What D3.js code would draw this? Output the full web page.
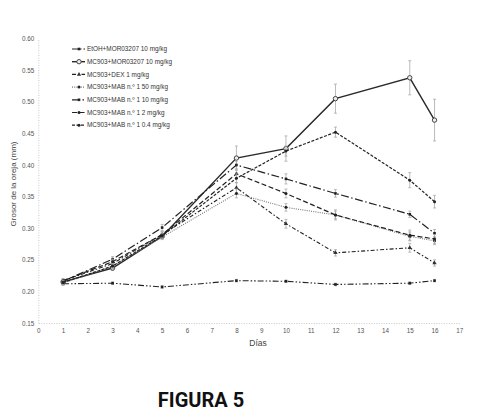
<!DOCTYPE html>
<html><head><meta charset="utf-8">
<script src="https://cdn.jsdelivr.net/npm/d3@7"></script>
<style>body{margin:0;background:#fff}svg{display:block}</style>
</head><body>
<svg id="c" width="478" height="411"></svg>
<script>
const days = [1,3,5,8,10,12,15,16];
const seriesNames = ["EtOH+MOR03207 10 mg/kg","MC903+MOR03207 10 mg/kg","MC903+DEX 1 mg/kg","MC903+MAB n.º 1 50 mg/kg","MC903+MAB n.º 1 10 mg/kg","MC903+MAB n.º 1 2 mg/kg","MC903+MAB n.º 1 0.4 mg/kg"];
const etoh   = [0.212,0.213,0.207,0.217,0.216,0.211,0.213,0.217];
const mor    = [0.215,0.237,0.287,0.411,0.426,0.505,0.538,0.471];
const dex    = [0.217,0.244,0.290,0.364,0.307,0.261,0.269,0.245];
const mab50  = [0.213,0.240,0.286,0.355,0.333,0.321,0.287,0.280];
const mab10  = [0.216,0.251,0.301,0.400,0.378,0.355,0.322,0.292];
const mab2   = [0.217,0.247,0.290,0.386,0.355,0.321,0.289,0.283];
const mab04  = [0.214,0.240,0.288,0.379,0.422,0.452,0.376,0.342];
const errEtoh  = [0.002,0.002,0.002,0.002,0.002,0.002,0.002,0.002];
const errMor   = [0.003,0.004,0.004,0.019,0.020,0.023,0.027,0.033];
const errDex   = [0.003,0.004,0.005,0.008,0.007,0.005,0.007,0.005];
const errMab50 = [0.003,0.004,0.004,0.007,0.006,0.006,0.007,0.006];
const errMab10 = [0.003,0.004,0.005,0.006,0.008,0.006,0.005,0.006];
const errMab2  = [0.003,0.004,0.004,0.006,0.007,0.008,0.008,0.007];
const errMab04 = [0.003,0.004,0.004,0.007,0.008,0.008,0.012,0.010];
const xTicks = d3.range(0,18);
const yTicks = [0.15,0.20,0.25,0.30,0.35,0.40,0.45,0.50,0.55,0.60];

const values = [etoh,mor,dex,mab50,mab10,mab2,mab04];
const errs = [errEtoh,errMor,errDex,errMab50,errMab10,errMab2,errMab04];
const styles = [
  {dash:"6,2,1.5,2,1.5,2", color:"#222", w:1.1, marker:"sq"},
  {dash:null, color:"#2a2a2a", w:1.4, marker:"open"},
  {dash:"4,2,1.5,2", color:"#222", w:1.1, marker:"tri"},
  {dash:"1,1.2", color:"#777", w:1.1, marker:"dot"},
  {dash:"8,2.5,1.5,2.5", color:"#222", w:1.2, marker:"sq"},
  {dash:"5,2.5", color:"#222", w:1.2, marker:"dot"},
  {dash:"3,1.5", color:"#222", w:1.2, marker:"dot"}
];

const svg = d3.select("#c");
const x = d3.scaleLinear().domain([0,17]).range([38.3,459.3]);
const y = d3.scaleLinear().domain([0.15,0.60]).range([323,38.6]);

const ax = svg.append("g").attr("transform","translate(0,323)")
  .call(d3.axisBottom(x).tickValues(xTicks).tickSize(0).tickPadding(6).tickFormat(d3.format("d")));
const ay = svg.append("g").attr("transform","translate(38.3,0)")
  .call(d3.axisLeft(y).tickValues(yTicks).tickSize(0).tickPadding(4).tickFormat(d3.format(".2f")));
[ax,ay].forEach(g=>{
  g.select(".domain").attr("stroke","#bbb").attr("stroke-dasharray","1,1.5").attr("stroke-width",0.8);
  g.selectAll("text").attr("font-family","Liberation Sans, Arial, sans-serif").attr("font-size",6.3).attr("fill","#555");
});

svg.append("text").attr("x",258).attr("y",346).attr("text-anchor","middle")
  .attr("font-family","Liberation Sans, Arial, sans-serif").attr("font-size",8.5).attr("fill","#444").text("Días");
svg.append("text").attr("transform","translate(16,184) rotate(-90)").attr("text-anchor","middle")
  .attr("font-family","Liberation Sans, Arial, sans-serif").attr("font-size",8).attr("fill","#444").text("Grosor de la oreja (mm)");

function drawMarker(g, type, cx, cy){
  if(type==="open") g.append("circle").attr("cx",cx).attr("cy",cy).attr("r",2.2).attr("fill","#eee").attr("stroke","#444").attr("stroke-width",1);
  else if(type==="sq") g.append("rect").attr("x",cx-1.3).attr("y",cy-1.3).attr("width",2.6).attr("height",2.6).attr("fill","#222");
  else if(type==="tri") g.append("path").attr("d",d3.symbol(d3.symbolTriangle,8)()).attr("transform",`translate(${cx},${cy})`).attr("fill","#333");
  else g.append("circle").attr("cx",cx).attr("cy",cy).attr("r",1.5).attr("fill","#222");
}

const line = d3.line().x((d,i)=>x(days[i])).y(d=>y(d));
values.forEach((vals,si)=>{
  const st = styles[si];
  const g = svg.append("g");
  vals.forEach((v,i)=>{
    const e = errs[si][i], cx = x(days[i]);
    g.append("line").attr("x1",cx).attr("x2",cx).attr("y1",y(v-e)).attr("y2",y(v+e)).attr("stroke","#aaa").attr("stroke-width",0.8);
    [v-e,v+e].forEach(t=>g.append("line").attr("x1",cx-1.5).attr("x2",cx+1.5).attr("y1",y(t)).attr("y2",y(t)).attr("stroke","#aaa").attr("stroke-width",0.8));
  });
  g.append("path").attr("d",line(vals)).attr("fill","none").attr("stroke",st.color).attr("stroke-width",st.w)
    .attr("stroke-dasharray",st.dash);
  vals.forEach((v,i)=>drawMarker(g, st.marker, x(days[i]), y(v)));
});

const lg = svg.append("g");
seriesNames.forEach((n,i)=>{
  const st = styles[i];
  const cy = 49 + i*12.7;
  lg.append("line").attr("x1",72).attr("x2",85).attr("y1",cy).attr("y2",cy)
    .attr("stroke",st.color).attr("stroke-width",st.w).attr("stroke-dasharray",st.dash);
  drawMarker(lg, st.marker, 79, cy);
  lg.append("text").attr("x",87).attr("y",cy+2.2).attr("font-family","Liberation Sans, Arial, sans-serif")
    .attr("font-size",6.4).attr("fill","#333").text(n);
});

svg.append("text").attr("x",201).attr("y",406.5).attr("text-anchor","middle")
  .attr("font-family","Roboto, sans-serif").attr("font-weight","bold").attr("font-size",20).attr("fill","#111").text("FIGURA 5");
</script>
</body></html>
